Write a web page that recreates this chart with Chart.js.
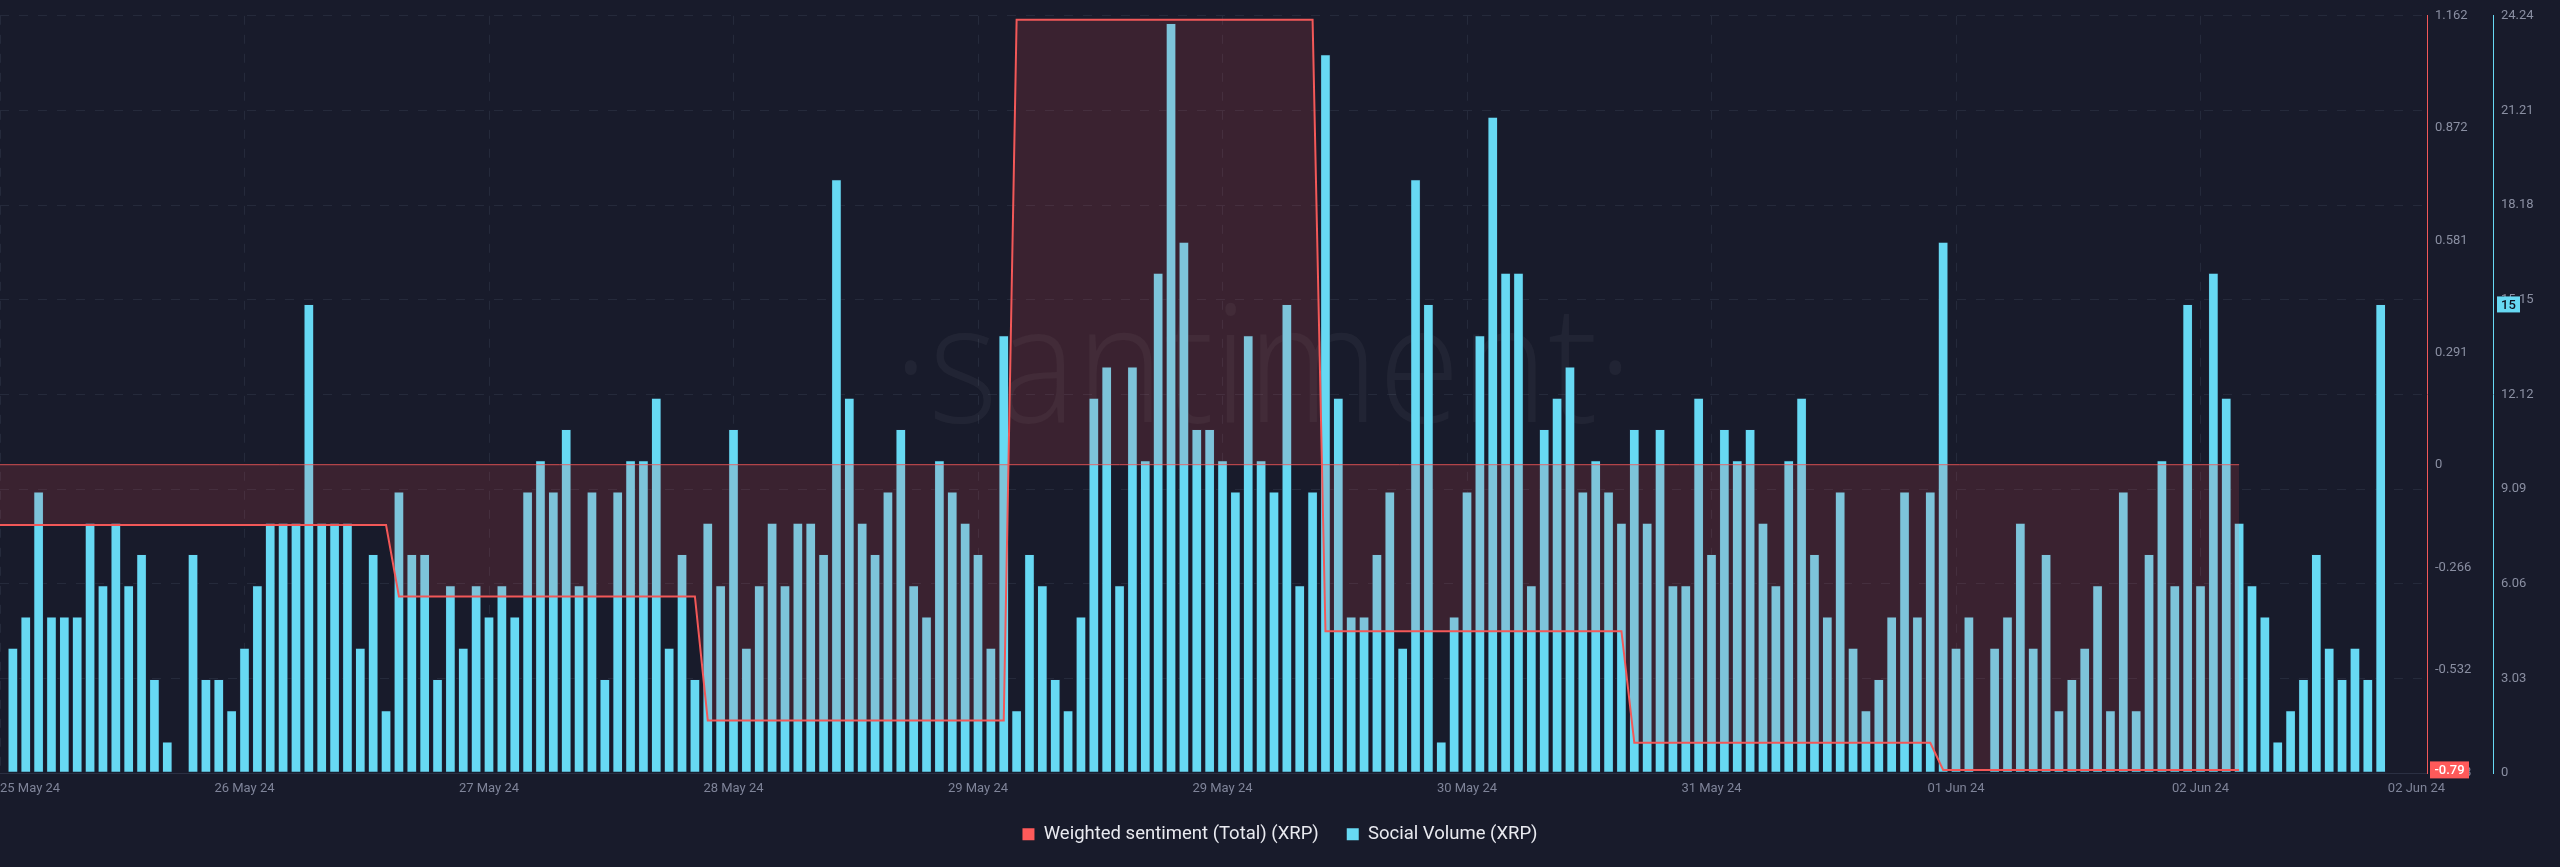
<!DOCTYPE html>
<html>
<head>
<meta charset="utf-8">
<script src="https://cdn.jsdelivr.net/npm/chart.js@4.4.1/dist/chart.umd.min.js"></script>
<style>
  html, body { margin: 0; padding: 0; background: #181b2b; }
  canvas { display: block; }
</style>
</head>
<body>
<canvas id="my-chart" width="2560" height="867"></canvas>
<script>
// hourly social volume, one bar per hour starting at hour 0
const socialVolume = [
  4, 5, 9, 5, 5, 5, 8, 6, 8, 6,
  7, 3, 1, 0, 7, 3, 3, 2, 4, 6,
  8, 8, 8, 15, 8, 8, 8, 4, 7, 2,
  9, 7, 7, 3, 6, 4, 6, 5, 6, 5,
  9, 10, 9, 11, 6, 9, 3, 9, 10, 10,
  12, 4, 7, 3, 8, 6, 11, 4, 6, 8,
  6, 8, 8, 7, 19, 12, 8, 7, 9, 11,
  6, 5, 10, 9, 8, 7, 4, 14, 2, 7,
  6, 3, 2, 5, 12, 13, 6, 13, 10, 16,
  24, 17, 11, 11, 10, 9, 14, 10, 9, 15,
  6, 9, 23, 12, 5, 5, 7, 9, 4, 19,
  15, 1, 5, 9, 14, 21, 16, 16, 6, 11,
  12, 13, 9, 10, 9, 8, 11, 8, 11, 6,
  6, 12, 7, 11, 10, 11, 8, 6, 10, 12,
  7, 5, 9, 4, 2, 3, 5, 9, 5, 9,
  17, 4, 5, 0, 4, 5, 8, 4, 7, 2,
  3, 4, 6, 2, 9, 2, 7, 10, 6, 15,
  6, 16, 12, 8, 6, 5, 1, 2, 3, 7,
  4, 3, 4, 3, 15
];

// hourly weighted sentiment, starting one hour before the first bar
const weightedSentiment = [
  -0.156, -0.156, -0.156, -0.156, -0.156, -0.156, -0.156, -0.156, -0.156, -0.156, -0.156,
  -0.156, -0.156, -0.156, -0.156, -0.156, -0.156, -0.156, -0.156, -0.156, -0.156,
  -0.156, -0.156, -0.156, -0.156, -0.156, -0.156, -0.156, -0.156, -0.156, -0.156,
  -0.341, -0.341, -0.341, -0.341, -0.341, -0.341, -0.341, -0.341, -0.341, -0.341, -0.341, -0.341,
  -0.341, -0.341, -0.341, -0.341, -0.341, -0.341, -0.341, -0.341, -0.341, -0.341, -0.341, -0.341,
  -0.662, -0.662, -0.662, -0.662, -0.662, -0.662, -0.662, -0.662, -0.662, -0.662, -0.662, -0.662,
  -0.662, -0.662, -0.662, -0.662, -0.662, -0.662, -0.662, -0.662, -0.662, -0.662, -0.662, -0.662,
  1.152, 1.152, 1.152, 1.152, 1.152, 1.152, 1.152, 1.152, 1.152, 1.152, 1.152, 1.152,
  1.152, 1.152, 1.152, 1.152, 1.152, 1.152, 1.152, 1.152, 1.152, 1.152, 1.152, 1.152,
  -0.431, -0.431, -0.431, -0.431, -0.431, -0.431, -0.431, -0.431, -0.431, -0.431, -0.431, -0.431,
  -0.431, -0.431, -0.431, -0.431, -0.431, -0.431, -0.431, -0.431, -0.431, -0.431, -0.431, -0.431,
  -0.72, -0.72, -0.72, -0.72, -0.72, -0.72, -0.72, -0.72, -0.72, -0.72, -0.72, -0.72,
  -0.72, -0.72, -0.72, -0.72, -0.72, -0.72, -0.72, -0.72, -0.72, -0.72, -0.72, -0.72,
  -0.79, -0.79, -0.79, -0.79, -0.79, -0.79, -0.79, -0.79, -0.79, -0.79, -0.79, -0.79,
  -0.79, -0.79, -0.79, -0.79, -0.79, -0.79, -0.79, -0.79, -0.79, -0.79, -0.79, -0.79
];
const sentimentStartHour = -1;

const dateLabels = ["25 May 24", "26 May 24", "27 May 24", "28 May 24", "29 May 24", "29 May 24",
  "30 May 24", "31 May 24", "01 Jun 24", "02 Jun 24", "02 Jun 24"];
const dateTickHours = [-1, 18, 37, 56, 75, 94, 113, 132, 151, 170, 189];

const sentimentTicks = [1.162, 0.872, 0.581, 0.291, 0, -0.266, -0.532, -0.798];
const volumeTicks = [24.24, 21.21, 18.18, 15.15, 12.12, 9.09, 6.06, 3.03, 0];

const sentimentColor = "#f25858";
const volumeColor = "#67d9f3";
const gridColor = "#252a3b";
const tickColor = "#8a8fa2";

Chart.defaults.font.family = "Roboto, 'Noto Sans', sans-serif";

const sentimentPoints = weightedSentiment.map((v, i) => ({ x: i + sentimentStartHour, y: v }));
const volumePoints = socialVolume.map((v, i) => ({ x: i, y: v }));
const lastSentimentHour = sentimentStartHour + weightedSentiment.length - 1;

// watermark under the bars and the last-value badges on the axes
const extras = {
  id: "extras",
  beforeDatasetsDraw(chart) {
    const ctx = chart.ctx;
    ctx.save();
    ctx.font = "300 165px 'Open Sans', 'Noto Sans', sans-serif";
    ctx.fillStyle = "rgba(255,255,255,0.045)";
    ctx.textAlign = "center";
    ctx.textBaseline = "alphabetic";
    const text = "\u00b7santiment\u00b7";
    const w = ctx.measureText(text).width;
    ctx.translate(1263, 422);
    ctx.scale(740 / w, 1);
    ctx.fillText(text, 0, 0);
    ctx.restore();
  },
  afterDraw(chart) {
    const ctx = chart.ctx;
    const ys = chart.scales.ySent;
    const yv = chart.scales.yVol;
    const lastS = weightedSentiment[weightedSentiment.length - 1];
    const lastV = socialVolume[socialVolume.length - 1];
    ctx.save();
    ctx.font = "500 13px Roboto, sans-serif";
    ctx.textBaseline = "middle";
    ctx.textAlign = "center";

    let y = ys.getPixelForValue(lastS);
    ctx.fillStyle = "#ff5a5a";
    ctx.fillRect(ys.left + 3, y - 8.5, 39, 17);
    ctx.fillStyle = "#ffffff";
    ctx.fillText(lastS.toFixed(2), ys.left + 3 + 19.5, y + 1);

    y = yv.getPixelForValue(lastV);
    ctx.fillStyle = volumeColor;
    ctx.fillRect(yv.left + 4, y - 8, 23, 16);
    ctx.fillStyle = "#0f1220";
    ctx.fillText(String(lastV), yv.left + 4 + 11.5, y + 1);
    ctx.restore();
  }
};

const ctx = document.getElementById("my-chart").getContext("2d");
const chart = new Chart(ctx, {
  type: "bar",
  data: {
    datasets: [
      {
        type: "line",
        label: "Weighted sentiment (Total) (XRP)",
        data: sentimentPoints,
        yAxisID: "ySent",
        borderColor: sentimentColor,
        borderWidth: 2,
        backgroundColor: "rgba(255,82,82,0.15)",
        fill: "origin",
        pointRadius: 0,
        tension: 0,
        order: 0
      },
      {
        type: "line",
        label: "zero",
        data: [{ x: sentimentStartHour, y: 0 }, { x: lastSentimentHour, y: 0 }],
        yAxisID: "ySent",
        borderColor: "rgba(242,88,88,0.85)",
        borderWidth: 1,
        pointRadius: 0,
        fill: false,
        order: 1
      },
      {
        type: "bar",
        label: "Social Volume (XRP)",
        data: volumePoints,
        yAxisID: "yVol",
        backgroundColor: volumeColor,
        borderColor: "rgba(30,40,60,0.45)",
        borderWidth: 1,
        borderSkipped: false,
        barThickness: 10,
        order: 2
      }
    ]
  },
  options: {
    responsive: false,
    devicePixelRatio: 1,
    animation: false,
    events: [],
    layout: { padding: { top: 10, left: 0, right: 0, bottom: 13.5 } },
    scales: {
      x: {
        type: "linear",
        min: -1,
        max: 187.6,
        offset: false,
        afterBuildTicks: (scale) => {
          scale.ticks = dateTickHours.map((v) => ({ value: v }));
        },
        afterFit: (scale) => {
          // labels may overhang the plot edges, as in the original
          scale.paddingLeft = 0;
          scale.paddingRight = 0;
          scale.height = 24;
        },
        ticks: {
          autoSkip: false,
          maxRotation: 0,
          align: "inner",
          padding: 8,
          color: "#7f8499",
          font: { size: 13 },
          callback: (value, index) => dateLabels[index]
        },
        grid: {
          offset: false,
          color: (c) => (c.index === dateTickHours.length - 1 ? "transparent" : gridColor),
          drawTicks: false
        },
        border: { display: true, color: "#2b3043", dash: [9, 10] }
      },
      ySent: {
        type: "linear",
        position: "right",
        min: -0.798,
        max: 1.162,
        afterBuildTicks: (scale) => {
          scale.ticks = sentimentTicks.map((v) => ({ value: v }));
        },
        afterFit: (scale) => {
          scale.width = 66;
        },
        ticks: {
          padding: 8,
          color: tickColor,
          font: { size: 13 },
          callback: (value) => String(value)
        },
        grid: { display: false, drawTicks: false },
        border: { display: true, color: sentimentColor, width: 1 }
      },
      yVol: {
        type: "linear",
        position: "right",
        min: 0,
        max: 24.24,
        afterBuildTicks: (scale) => {
          scale.ticks = volumeTicks.map((v) => ({ value: v }));
        },
        afterFit: (scale) => {
          scale.width = 67;
        },
        ticks: {
          padding: 8,
          color: tickColor,
          font: { size: 13 },
          callback: (value) => String(value)
        },
        grid: { color: gridColor, drawTicks: false },
        border: { display: true, color: volumeColor, width: 1, dash: [9, 10] }
      }
    },
    plugins: {
      tooltip: { enabled: false },
      legend: {
        position: "bottom",
        labels: {
          color: "#e9eaf0",
          font: { size: 18.5 },
          boxWidth: 12,
          boxHeight: 12,
          padding: 28,
          generateLabels: (chart) =>
            chart.data.datasets
              .map((ds, i) => ({ ds, i }))
              .filter((d) => d.ds.label !== "zero")
              .map((d) => ({
                text: d.ds.label,
                fillStyle: d.ds.type === "line" ? "#ff5a5a" : volumeColor,
                strokeStyle: "transparent",
                lineWidth: 0,
                fontColor: "#e9eaf0",
                datasetIndex: d.i
              }))
        }
      }
    }
  },
  plugins: [extras]
});
</script>
</body>
</html>
